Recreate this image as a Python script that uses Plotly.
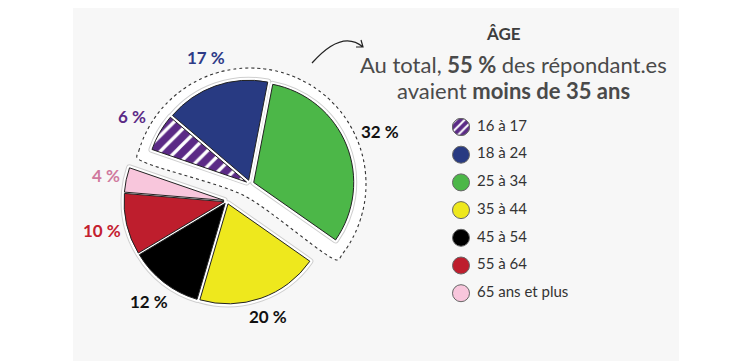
import math
import plotly.graph_objects as go

# ---------------- data ----------------
categories = ["16 à 17", "18 à 24", "25 à 34", "35 à 44", "45 à 54", "55 à 64", "65 ans et plus"]
values = [6, 17, 32, 20, 12, 10, 4]
value_labels = ["6 %", "17 %", "32 %", "20 %", "12 %", "10 %", "4 %"]
under_35 = [True, True, True, False, False, False, False]
colors = ["#5b2a86", "#283a82", "#4cb748", "#eee81d", "#000000", "#be1e2d", "#f8c6dc"]
label_colors = ["#5b2a86", "#2e3b87", "#111111", "#111111", "#111111", "#c4202f", "#d0799e"]
title_text = "ÂGE"
subtitle_1 = "Au total, <b>55 %</b> des répondant.es"
subtitle_2 = "avaient <b>moins de 35 ans</b>"

# ---------------- layout geometry (page pixels) ----------------
W, H = 751, 361
OFF = 8                     # default page margin of the html body
FONT = "Lato"
R = 100                     # pie radius
C_REST = (227, 201)         # centre of the 35+ part
C_GROUP = (250, 184)        # centre of the under-35 part (moved out)
PULL_REST = 0.03
PULL_GROUP = 0.04
ROT = -71                   # start angle of first slice (clockwise from 12 o'clock)
TRANSP = "rgba(0,0,0,0)"


def pie_domain(c, r, maxpull):
    half = r * (1 + maxpull)
    cx, cy = c[0] - OFF, c[1] - OFF
    return dict(x=[(cx - half) / W, (cx + half) / W],
                y=[1 - (cy + half) / H, 1 - (cy - half) / H])


fig = go.Figure()

# background panel
fig.add_shape(type="rect", xref="x", yref="y", x0=73, x1=679, y0=0, y1=H + OFF,
              fillcolor="#f7f7f7", line=dict(width=0), layer="below")

# ---- angles from data ----
total = sum(values)
cum = [0]
for v in values:
    cum.append(cum[-1] + v)
mid_angles = [ROT + (cum[i] + cum[i + 1]) / 2 / total * 360 for i in range(len(values))]

# ---- white halo with dotted outline around the under-35 group ----
grp_idx = [i for i, g in enumerate(under_35) if g]
a0 = ROT + cum[grp_idx[0]] / total * 360
a1 = ROT + cum[grp_idx[-1] + 1] / total * 360
amid = (a0 + a1) / 2
Rh = R * (1 + PULL_GROUP) + 12
delta = math.degrees(12 / Rh)
hx, hy = [], []
n = 60
for k in range(n + 1):
    a = math.radians(a0 - delta + (a1 - a0 + 2 * delta) * k / n)
    hx.append(C_GROUP[0] + Rh * math.sin(a))
    hy.append(C_GROUP[1] - Rh * math.cos(a))
back = 13
am = math.radians(amid)
hx.append(C_GROUP[0] - back * math.sin(am))
hy.append(C_GROUP[1] + back * math.cos(am))
hx.append(hx[0])
hy.append(hy[0])
fig.add_trace(go.Scatter(x=hx, y=hy, mode="lines", fill="toself", fillcolor="white",
                         line=dict(color="#333333", width=1.1, dash="dot", shape="spline", smoothing=0.8),
                         hoverinfo="skip", showlegend=False))

# ---- legend (circles + labels) ----
LEG_X, LEG_Y0, LEG_DY = 461, 127, 27.7
leg_y = [LEG_Y0 + i * LEG_DY for i in range(len(categories))]
fig.add_trace(go.Scatter(x=[LEG_X] * len(categories), y=leg_y, mode="markers",
                         marker=dict(size=17, color=colors, line=dict(color="#666666", width=1)),
                         hoverinfo="skip", showlegend=False))
fig.add_trace(go.Scatter(x=[LEG_X + 16] * len(categories), y=leg_y, mode="text",
                         text=categories, textposition="middle right",
                         textfont=dict(family=FONT, size=15, color="#333333"),
                         hoverinfo="skip", showlegend=False))
# hatched legend symbol as a tiny pie
fig.add_trace(go.Pie(values=[1], labels=[categories[0]], sort=False,
                     domain=pie_domain((LEG_X, leg_y[0]), 8.5, 0),
                     marker=dict(colors=[colors[0]], line=dict(color="#666666", width=1),
                                 pattern=dict(shape="/", fgcolor="white", bgcolor=colors[0],
                                              size=6, solidity=0.35, fillmode="replace")),
                     textinfo="none", hoverinfo="skip", showlegend=False))


# ---- the pie: two parts, each drawn in 3 layers (rim, white band, fill) ----
def add_part(mask, centre, pull_val):
    dom = pie_domain(centre, R, pull_val)
    pulls = [pull_val if m else 0 for m in mask]
    layers = [("#cfcfcf", 7, False), ("white", 5, False), ("#222222", 1, True)]
    for lc, lw, is_fill in layers:
        cols = [(colors[i] if is_fill else "white") if m else TRANSP for i, m in enumerate(mask)]
        lcols = [lc if m else TRANSP for m in mask]
        lws = [lw if m else 0 for m in mask]
        marker = dict(colors=cols, line=dict(color=lcols, width=lws))
        if is_fill:
            marker["pattern"] = dict(shape=["/" if (i == 0 and m) else "" for i, m in enumerate(mask)],
                                     fgcolor="white", bgcolor=cols, size=11, solidity=0.3,
                                     fillmode="replace")
        fig.add_trace(go.Pie(values=values, labels=categories, sort=False, direction="clockwise",
                             rotation=ROT, pull=pulls, domain=dom, marker=marker, textinfo="none",
                             hoverinfo="skip", showlegend=False))


add_part([not g for g in under_35], C_REST, PULL_REST)
add_part(under_35, C_GROUP, PULL_GROUP)

# ---- value labels placed just outside each slice (or outside the halo) ----
for i, lab in enumerate(value_labels):
    th = math.radians(mid_angles[i])
    if under_35[i]:
        c, base = C_GROUP, Rh + 3
    else:
        c, base = C_REST, R * (1 + PULL_REST) + 5
    half_w = 4.8 * len(lab)
    dist = base + abs(math.sin(th)) * half_w + abs(math.cos(th)) * 9
    fig.add_annotation(x=c[0] + dist * math.sin(th), y=c[1] - dist * math.cos(th),
                       xref="x", yref="y", text="<b>" + lab + "</b>", showarrow=False,
                       font=dict(family=FONT, size=17, color=label_colors[i]))

# ---- curved arrow ----
fig.add_shape(type="path", xref="x", yref="y",
              path="M 312 63 Q 342 29 363 47 M 361 40 L 363 47 L 356 47",
              line=dict(color="#222222", width=1.2))

# ---- texts ----
fig.add_annotation(x=503, y=33, xref="x", yref="y", text="<b>" + title_text + "</b>", showarrow=False,
                   font=dict(family=FONT, size=17, color="#3d3d3d"))
fig.add_annotation(x=513, y=64, xref="x", yref="y", text=subtitle_1, showarrow=False,
                   font=dict(family=FONT, size=22, color="#4a4a4a"))
fig.add_annotation(x=513, y=90, xref="x", yref="y", text=subtitle_2, showarrow=False,
                   font=dict(family=FONT, size=22, color="#4a4a4a"))

fig.update_layout(
    width=W, height=H, margin=dict(l=0, r=0, t=0, b=0),
    paper_bgcolor="white", plot_bgcolor="rgba(0,0,0,0)",
    xaxis=dict(range=[OFF, W + OFF], visible=False, fixedrange=True, domain=[0, 1]),
    yaxis=dict(range=[H + OFF, OFF], visible=False, fixedrange=True, domain=[0, 1]),
    showlegend=False,
)

fig.write_html("out.html")
